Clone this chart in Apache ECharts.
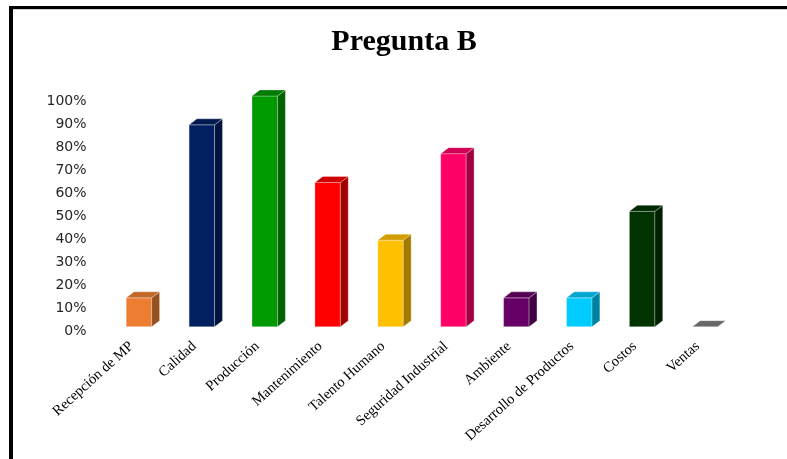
<!DOCTYPE html>
<html>
<head>
<meta charset="utf-8">
<script src="https://cdn.jsdelivr.net/npm/echarts@6/dist/echarts.min.js"></script>
<style>
  html, body { margin: 0; padding: 0; background: #ffffff; }
  #chart { width: 787px; height: 459px; }
</style>
</head>
<body>
<div id="chart"></div>
<script>
// Areas surveyed for "Pregunta B" and the share of answers for each (percent)
const categories = [
  'Recepción de MP', 'Calidad', 'Producción', 'Mantenimiento', 'Talento Humano',
  'Seguridad Industrial', 'Ambiente', 'Desarrollo de Productos', 'Costos', 'Ventas'
];
const percentages = [12.5, 87.5, 100, 62.5, 37.5, 75, 12.5, 12.5, 50, 0];
const yTickValues = [0, 10, 20, 30, 40, 50, 60, 70, 80, 90, 100];

// One colour per area (front face); side and top faces are darker shades
const barColors = [
  '#ED7D31', '#002060', '#009900', '#FF0000', '#FFC000',
  '#FF0066', '#660066', '#00CCFF', '#003300', '#7F7F7F'
];

function shade(hex, k) {
  const n = parseInt(hex.slice(1), 16);
  const r = Math.round(((n >> 16) & 255) * k);
  const g = Math.round(((n >> 8) & 255) * k);
  const b = Math.round((n & 255) * k);
  return 'rgb(' + r + ',' + g + ',' + b + ')';
}

// Draws a box-shaped column: front face, right side and top face
function renderColumn(params, api) {
  const idx = api.value(0);
  const val = api.value(1);
  const base = api.coord([idx, 0]);
  const top = api.coord([idx, val]);
  const band = api.size([1, 0])[0];
  const w = band * 0.405;
  const dx = band * 0.125;
  const dy = 6;
  const lift = 5;
  const x0 = base[0] - w / 2, x1 = base[0] + w / 2;
  const yb = base[1] - lift, yt = top[1] - lift;
  const c = barColors[idx];
  const edge = 'rgba(255,255,255,0.35)';
  return {
    type: 'group',
    children: [
      { type: 'polygon', shape: { points: [[x0, yt], [x1, yt], [x1, yb], [x0, yb]] },
        style: { fill: c, stroke: edge, lineWidth: 0.8 } },
      { type: 'polygon', shape: { points: [[x1, yt], [x1 + dx, yt - dy], [x1 + dx, yb - dy], [x1, yb]] },
        style: { fill: shade(c, 0.64), stroke: edge, lineWidth: 0.8 } },
      { type: 'polygon', shape: { points: [[x0, yt], [x0 + dx, yt - dy], [x1 + dx, yt - dy], [x1, yt]] },
        style: { fill: shade(c, 0.82), stroke: edge, lineWidth: 0.8 } }
    ]
  };
}

const chart = echarts.init(document.getElementById('chart'), null, { renderer: 'canvas' });

chart.setOption({
  backgroundColor: '#ffffff',
  animation: false,
  title: {
    text: 'Pregunta B',
    left: 399,
    top: 22,
    textAlign: 'center',
    textStyle: { fontFamily: 'Liberation Serif', fontWeight: 'bold', fontSize: 30, color: '#000000' }
  },
  graphic: [
    { type: 'rect', shape: { x: 9, y: 6, width: 778, height: 3 }, style: { fill: '#000000' } },
    { type: 'rect', shape: { x: 13, y: 9, width: 774, height: 1 }, style: { fill: '#d0d0d0' } },
    { type: 'rect', shape: { x: 9, y: 6, width: 4, height: 453 }, style: { fill: '#000000' } }
  ],
  grid: { left: 107.5, right: 50.5, top: 101, bottom: 127.3, containLabel: false },
  xAxis: {
    type: 'category',
    data: categories,
    axisLine: { show: false },
    axisTick: { show: false },
    axisLabel: {
      interval: 0,
      rotate: 42,
      margin: 6,
      padding: [0, 10, 8, 0],
      fontFamily: 'Liberation Serif',
      fontSize: 14.5,
      color: '#000000'
    }
  },
  yAxis: {
    type: 'value',
    min: yTickValues[0],
    max: yTickValues[yTickValues.length - 1],
    interval: yTickValues[1] - yTickValues[0],
    axisLine: { show: false },
    axisTick: { show: false },
    splitLine: { show: false },
    axisLabel: {
      margin: 21,
      formatter: '{value}%',
      fontFamily: 'DejaVu Sans',
      fontSize: 14,
      color: '#262626'
    }
  },
  series: [{
    type: 'custom',
    renderItem: renderColumn,
    encode: { x: 0, y: 1 },
    data: percentages.map((v, i) => [i, v])
  }]
});
</script>
</body>
</html>
